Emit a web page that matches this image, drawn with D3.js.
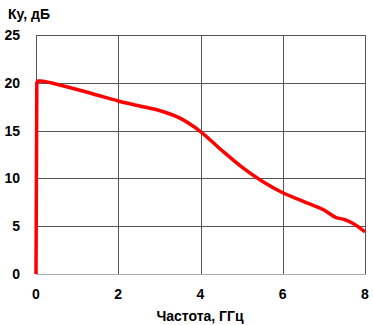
<!DOCTYPE html>
<html>
<head>
<meta charset="utf-8">
<script src="https://cdn.jsdelivr.net/npm/d3@7"></script>
<style>
  body { margin: 0; background: #fff; }
  text { font-family: "Liberation Sans", Arial, sans-serif; font-weight: bold; }
</style>
</head>
<body>
<div id="chart"></div>
<script>
// gain vs frequency
let freq = [0, 0.02, 0.05, 0.1, 0.2, 0.5, 1, 1.5, 2, 2.5, 3, 3.5, 4, 4.5, 5, 5.5, 6, 6.5, 7, 7.3, 7.5, 7.7, 8];
let gain = [0, 20.0, 20.2, 20.2, 20.15, 19.85, 19.3, 18.7, 18.1, 17.6, 17.1, 16.3, 14.9, 13.0, 11.2, 9.7, 8.5, 7.6, 6.7, 5.9, 5.7, 5.3, 4.4];
let xTicks = [0, 2, 4, 6, 8];
let yTicks = [0, 5, 10, 15, 20, 25];

let width = 373, height = 325;
let plotLeft = 36, plotRight = 365, plotTop = 35, plotBottom = 274;

let svg = d3.select("#chart").append("svg")
    .attr("width", width)
    .attr("height", height);

let x = d3.scaleLinear().domain([0, 8]).range([plotLeft, plotRight]);
let y = d3.scaleLinear().domain([0, 25]).range([plotBottom, plotTop]);

// grid
svg.selectAll(".vgrid")
    .data(xTicks)
    .enter()
    .append("line")
    .attr("x1", d => Math.round(x(d)) + 0.5).attr("x2", d => Math.round(x(d)) + 0.5)
    .attr("y1", plotTop).attr("y2", plotBottom)
    .attr("stroke", "#555").attr("stroke-width", 1);

svg.selectAll(".hgrid")
    .data(yTicks.filter(d => d > 0))
    .enter()
    .append("line")
    .attr("x1", plotLeft).attr("x2", plotRight + 1)
    .attr("y1", d => Math.round(y(d)) + 0.5).attr("y2", d => Math.round(y(d)) + 0.5)
    .attr("stroke", "#555").attr("stroke-width", 1);

// bottom axis line is lighter
svg.append("line")
    .attr("x1", plotLeft).attr("x2", plotRight + 1)
    .attr("y1", plotBottom + 0.5).attr("y2", plotBottom + 0.5)
    .attr("stroke", "#aaa");

// tick labels
svg.selectAll(".ylab")
    .data(yTicks)
    .enter()
    .append("text")
    .attr("x", 20)
    .attr("y", d => y(d) + 5)
    .attr("text-anchor", "end")
    .attr("font-size", 14)
    .text(d => d);

svg.selectAll(".xlab")
    .data(xTicks)
    .enter()
    .append("text")
    .attr("x", d => x(d))
    .attr("y", 299)
    .attr("text-anchor", "middle")
    .attr("font-size", 14)
    .text(d => d);

svg.append("text")
    .attr("x", 8).attr("y", 19)
    .attr("font-size", 14)
    .text("Ку, дБ");

svg.append("text")
    .attr("x", 200).attr("y", 321)
    .attr("text-anchor", "middle")
    .attr("font-size", 14)
    .text("Частота, ГГц");

let data = freq.map((f, i) => ({ f: f, g: gain[i] }));

let line = d3.line()
    .x(d => x(d.f))
    .y(d => y(d.g))
    .curve(d3.curveMonotoneX);

svg.append("path")
    .datum(data)
    .attr("d", line)
    .attr("fill", "none")
    .attr("stroke", "#ff0000")
    .attr("stroke-width", 3.5)
    .attr("stroke-linejoin", "round");
</script>
</body>
</html>
